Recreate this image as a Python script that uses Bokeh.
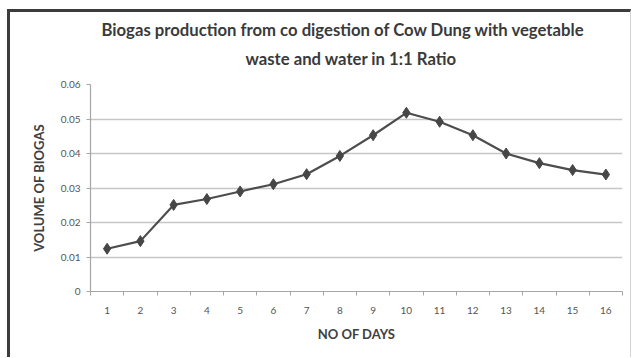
from bokeh.plotting import figure
from bokeh.models import Range1d, FixedTicker, CustomJSTickFormatter, Title, ColumnDataSource
from bokeh.embed import file_html
from bokeh.resources import INLINE

days = list(range(1, 17))
volume = [0.0124, 0.0146, 0.0251, 0.0268, 0.0290, 0.0311, 0.0340, 0.0393,
          0.0453, 0.0518, 0.0492, 0.0453, 0.0400, 0.0372, 0.0352, 0.0339]
y_ticks = [0, 0.01, 0.02, 0.03, 0.04, 0.05, 0.06]
title_lines = ["Biogas production from co digestion of  Cow Dung with vegetable",
               "waste and water in 1:1 Ratio"]
x_label = "NO OF DAYS"
y_label = "VOLUME OF BIOGAS"

FONT = "Lato"

p = figure(width=624, height=348, output_backend="svg", toolbar_location=None,
           x_range=Range1d(0.5, 16.5), y_range=Range1d(0, 0.06),
           min_border_left=80, min_border_right=12, min_border_top=72, min_border_bottom=69)
p.styles = {"border-left": "3px solid #3c3c3c", "border-top": "3px solid #3c3c3c",
            "border-right": "1px solid #d4d4d4",
            "margin-left": "7px", "margin-top": "9px"}
p.outline_line_color = None
p.background_fill_color = "white"
p.border_fill_color = "white"

src = ColumnDataSource(dict(day=days, vol=volume))
p.line("day", "vol", source=src, line_color="#4d4d4d", line_width=2.2)
p.scatter("day", "vol", source=src, marker="diamond", size=11,
          fill_color="#464646", line_color="#464646")

# axes
p.xaxis.ticker = FixedTicker(ticks=days, minor_ticks=[d - 0.5 for d in days] + [16.5])
p.xaxis.major_tick_out = 0
p.xaxis.major_tick_in = 0
p.xaxis.minor_tick_out = 4
p.xaxis.minor_tick_in = 0
p.xaxis.axis_line_color = "#a6a6a6"
p.xaxis.minor_tick_line_color = "#a6a6a6"
p.xaxis.major_label_standoff = 11
p.xaxis.axis_label = x_label
p.xaxis.axis_label_standoff = 9

p.yaxis.ticker = FixedTicker(ticks=y_ticks)
p.yaxis.formatter = CustomJSTickFormatter(code="return tick == 0 ? '0' : tick.toFixed(2);")
p.yaxis.minor_tick_line_color = None
p.yaxis.major_tick_out = 4
p.yaxis.major_tick_in = 0
p.yaxis.axis_line_color = "#a6a6a6"
p.yaxis.major_tick_line_color = "#a6a6a6"
p.yaxis.major_label_standoff = 6
p.yaxis.axis_label = y_label
p.yaxis.axis_label_standoff = 11

for ax in (p.xaxis, p.yaxis):
    ax.major_label_text_font = FONT
    ax.major_label_text_font_size = "10px"
    ax.major_label_text_color = "#555555"
    ax.axis_label_text_font = FONT
    ax.axis_label_text_font_size = "13px"
    ax.axis_label_text_font_style = "bold"
    ax.axis_label_text_color = "#404040"
    ax.axis_line_width = 1.2

p.xgrid.grid_line_color = None
p.ygrid.grid_line_color = "#c6c6c6"
p.ygrid.grid_line_width = 1.5

# two-line title: line 2 (nearest the frame) first, then line 1
for txt, off, stand in zip(reversed(title_lines), [155, 11], [32, -18]):
    p.add_layout(Title(text=txt, align="left", offset=off, standoff=stand,
                       text_font=FONT, text_font_size="16.7px", text_font_style="bold",
                       text_color="#3a3a3a"), "above")

open("out.html", "w").write(file_html(p, INLINE))
